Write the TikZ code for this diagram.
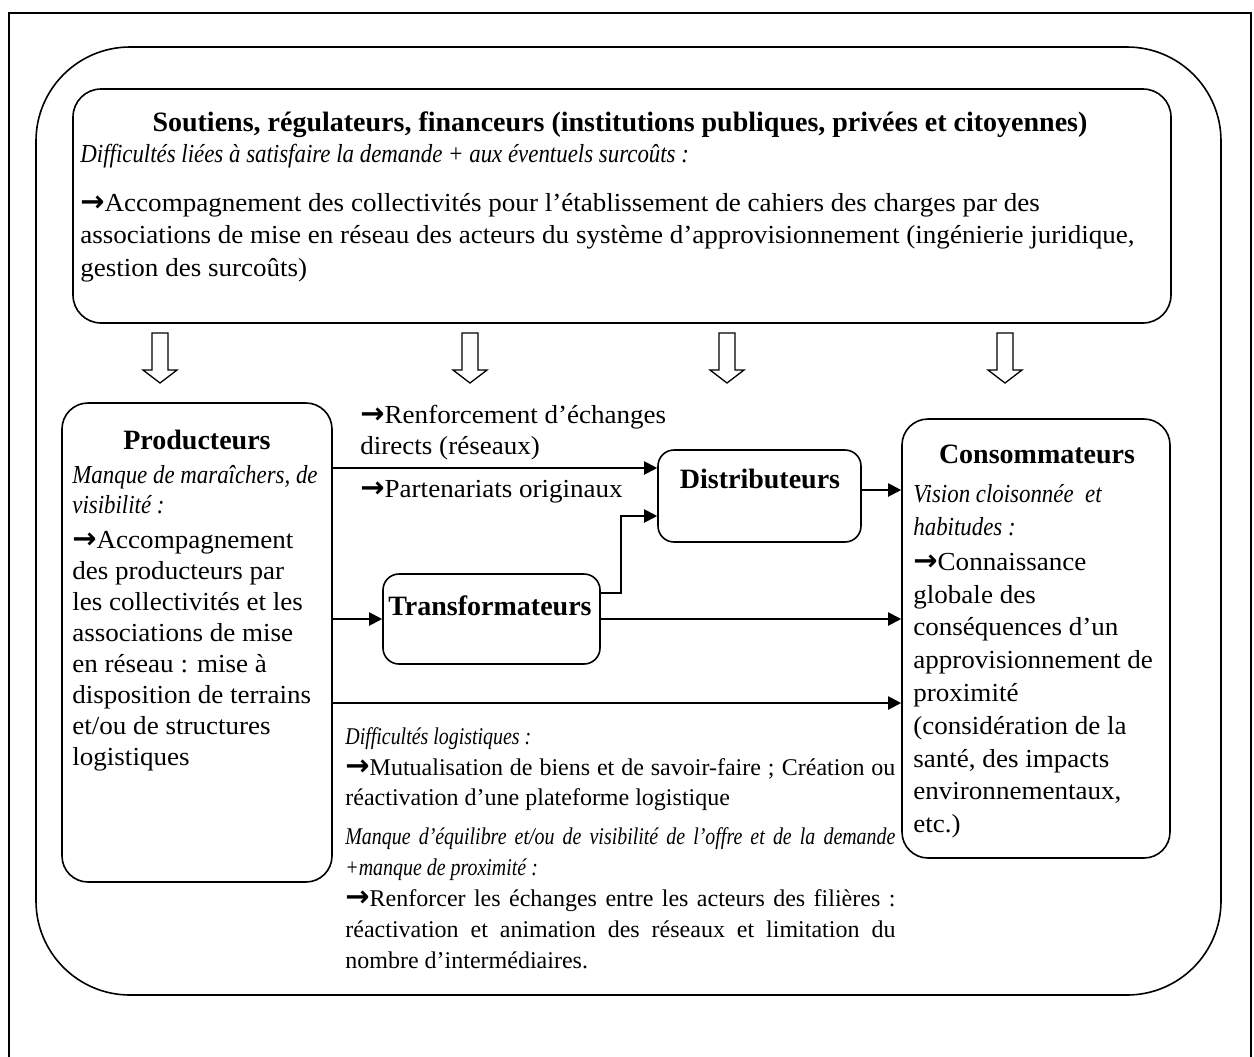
\documentclass[tikz,border=0pt]{standalone}
\usepackage{fontspec}
\setmainfont{Liberation Serif}[UprightFeatures={FakeStretch=1.04}, ItalicFeatures={FakeStretch=0.88}, BoldFeatures={FakeStretch=1.0}]
\newfontfamily\lowfont{Liberation Serif}[ItalicFeatures={FakeStretch=0.83}]
\newfontfamily\arrfont{DejaVu Sans}
\usetikzlibrary{arrows.meta,calc}
\newcommand\arr{{\arrfont\bfseries\fontsize{14.5}{14}\selectfont →}}
\tikzset{
  frameline/.style={line width=1pt},
  roundbox/.style={draw, line width=0.8pt, inner sep=0pt},
  conn/.style={line width=1pt, -{Triangle[length=6.5pt,width=6.5pt]}},
  blk/.style={inner sep=0pt, anchor=north west, align=left},
  ttl/.style={inner sep=0pt, anchor=base, font=\fontsize{14}{16}\selectfont\bfseries},
  hollow/.style={draw, line width=0.65pt},
  hollowarr/.pic={\draw[hollow] (-8,0) -- (-8,37) -- (-17,37) -- (0,50) -- (17,37) -- (8,37) -- (8,0) -- cycle;}
}
\begin{document}
\begin{tikzpicture}[x=0.5pt,y=-0.5pt]
\useasboundingbox (0,0) rectangle (1254,1056);
% page frame
\draw[frameline] (9,1070) -- (9,13) -- (1251,13) -- (1251,1070);
% outer rounded frame
\node[roundbox, rounded corners=47pt, minimum width=592.5pt, minimum height=474pt] (outer) at (628.5,521) {};
% top box
\node[roundbox, rounded corners=14pt, minimum width=549pt, minimum height=117pt] (top) at (622,206) {};
\node[ttl] (toptitle) at (620,131) {Soutiens, régulateurs, financeurs (institutions publiques, privées et citoyennes)};
\node[blk, font=\fontsize{13}{15.6}\selectfont\itshape] (topit) at (80,140) {\strut Difficultés liées à satisfaire la demande + aux éventuels surcoûts :};
\node[blk, font=\fontsize{13}{16.25}\selectfont] (toptext) at (80,188) {\strut\arr Accompagnement des collectivités pour l’établissement de cahiers des charges par des\\
associations de mise en réseau des acteurs du système d’approvisionnement (ingénierie juridique,\\
gestion des surcoûts)};
% hollow arrows
\pic at (160,333) {hollowarr};
\pic at (470,333) {hollowarr};
\pic at (727,333) {hollowarr};
\pic at (1005,333) {hollowarr};
% boxes
\node[roundbox, rounded corners=13pt, minimum width=135pt, minimum height=239.5pt] (prod) at (197,642.5) {};
\node[roundbox, rounded corners=8pt, minimum width=101.5pt, minimum height=46pt] (dist) at (759.5,496) {};
\node[roundbox, rounded corners=8pt, minimum width=108.5pt, minimum height=45pt] (trans) at (491.5,619) {};
\node[roundbox, rounded corners=13pt, minimum width=134pt, minimum height=219.5pt] (cons) at (1036,638.5) {};
% titles
\node[ttl] (prodtitle) at (197,449) {Producteurs};
\node[ttl] (disttitle) at (760,488) {Distributeurs};
\node[ttl] (transtitle) at (490,615) {Transformateurs};
\node[ttl] (constitle) at (1037,463) {Consommateurs};
% producteurs text
\node[blk, font=\fontsize{13}{15}\selectfont\itshape] (prodit) at (72,462) {\strut Manque de maraîchers, de\\visibilité :};
\node[blk, font=\fontsize{13}{15.5}\selectfont] (prodtext) at (72,526) {\strut\arr Accompagnement\\des producteurs par\\les collectivités et les\\associations de mise\\en réseau : mise à\\disposition de terrains\\et/ou de structures\\logistiques};
% consommateurs text
\node[blk, font=\fontsize{13}{16.5}\selectfont\itshape] (consit) at (913,479) {\strut Vision cloisonnée \ et\\habitudes :};
\node[blk, font=\fontsize{13}{16.4}\selectfont] (constext) at (913,547) {\strut\arr Connaissance\\globale des\\conséquences d’un\\approvisionnement de\\proximité\\(considération de la\\santé, des impacts\\environnementaux,\\etc.)};
% middle labels
\node[blk, font=\fontsize{13}{15.5}\selectfont] (lab1) at (360,401) {\strut\arr Renforcement d’échanges\\directs (réseaux)};
\node[blk, font=\fontsize{13}{15.6}\selectfont] (lab2) at (360,475) {\strut\arr Partenariats originaux};
% lower block
\node[blk, font=\lowfont\fontsize{12}{15.2}\selectfont, text width=275pt, align=justify] (lowA) at (345,723) {\strut\textit{Difficultés logistiques :}\\
\arr Mutualisation de biens et de savoir-faire ; Création ou\linebreak réactivation d’une plateforme logistique};
\node[blk, font=\lowfont\fontsize{12}{15.5}\selectfont, text width=275pt, align=justify] (lowB) at (345,822) {\strut\textit{Manque d’équilibre et/ou de visibilité de l’offre et de la demande\linebreak +manque de proximité :}\\
\arr Renforcer les échanges entre les acteurs des filières :\linebreak réactivation et animation des réseaux et limitation du\linebreak nombre d’intermédiaires.};
% connectors
\coordinate (yA) at (0,468);
\coordinate (yB) at (0,490);
\coordinate (yC) at (0,593);
\coordinate (yD) at (0,516);
\coordinate (yE) at (0,703);
\coordinate (xK) at (621,0);
\draw[conn] (prod.east |- yA) -- (dist.west |- yA);
\draw[conn] (dist.east |- yB) -- (cons.west |- yB);
\draw[conn] (trans.east |- yC) -- (xK |- yC) -- (xK |- yD) -- (dist.west |- yD);
\draw[conn] (trans.east) -- (trans.east -| cons.west);
\draw[conn] (prod.east |- trans.west) -- (trans.west);
\draw[conn] (prod.east |- yE) -- (cons.west |- yE);
\end{tikzpicture}
\end{document}
